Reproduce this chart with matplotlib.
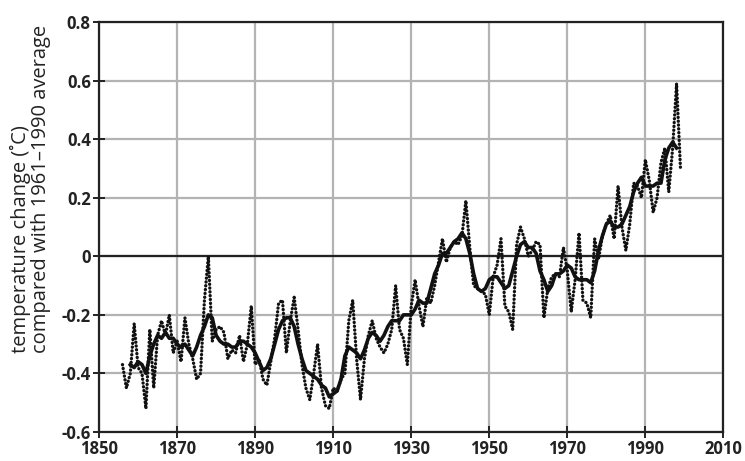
import numpy as np
import matplotlib.pyplot as plt

# annual global temperature anomaly (deg C, vs 1961-1990)
years = list(range(1856, 2000))
annual = [
    -0.37, -0.45, -0.40, -0.23, -0.38, -0.40, -0.52, -0.25, -0.45, -0.27,  # 1856-1865
    -0.22, -0.27, -0.20, -0.33, -0.29, -0.36, -0.21, -0.30, -0.35, -0.42,  # 1866-1875
    -0.40, -0.15, 0.00, -0.29, -0.25, -0.24, -0.26, -0.35, -0.32, -0.33,   # 1876-1885
    -0.27, -0.36, -0.30, -0.17, -0.37, -0.35, -0.42, -0.44, -0.36, -0.28,  # 1886-1895
    -0.16, -0.15, -0.33, -0.22, -0.14, -0.25, -0.37, -0.45, -0.49, -0.40,  # 1896-1905
    -0.30, -0.45, -0.51, -0.52, -0.45, -0.46, -0.42, -0.40, -0.22, -0.15,  # 1906-1915
    -0.35, -0.49, -0.35, -0.27, -0.22, -0.28, -0.31, -0.33, -0.30, -0.25,  # 1916-1925
    -0.10, -0.25, -0.28, -0.37, -0.17, -0.08, -0.17, -0.24, -0.14, -0.16,  # 1926-1935
    -0.10, -0.02, 0.06, -0.02, 0.03, 0.05, 0.04, 0.07, 0.19, 0.03,         # 1936-1945
    -0.10, -0.11, -0.12, -0.13, -0.20, -0.07, -0.03, 0.06, -0.17, -0.19,   # 1946-1955
    -0.25, 0.04, 0.10, 0.06, 0.00, 0.02, 0.05, 0.04, -0.21, -0.11,         # 1956-1965
    -0.07, -0.06, -0.07, 0.03, -0.05, -0.19, -0.08, 0.08, -0.15, -0.16,    # 1966-1975
    -0.21, 0.06, -0.01, 0.07, 0.11, 0.14, 0.06, 0.24, 0.10, 0.02,          # 1976-1985
    0.11, 0.25, 0.24, 0.20, 0.33, 0.26, 0.15, 0.20, 0.32, 0.37,            # 1986-1995
    0.22, 0.37, 0.59, 0.30,                                                # 1996-1999
]

# smoothed curve
smooth_years = list(range(1858, 1999))
smooth = [
    -0.37, -0.38, -0.36, -0.37, -0.40, -0.34, -0.30, -0.27,                # 1858-1865
    -0.28, -0.26, -0.28, -0.28, -0.30, -0.31, -0.30, -0.32, -0.34, -0.31,  # 1866-1875
    -0.27, -0.24, -0.20, -0.21, -0.27, -0.29, -0.30, -0.30, -0.31, -0.31,  # 1876-1885
    -0.29, -0.29, -0.30, -0.31, -0.33, -0.36, -0.39, -0.38, -0.35, -0.30,  # 1886-1895
    -0.25, -0.22, -0.21, -0.21, -0.24, -0.30, -0.35, -0.39, -0.40, -0.41,  # 1896-1905
    -0.42, -0.44, -0.45, -0.48, -0.47, -0.46, -0.42, -0.34, -0.31, -0.32,  # 1906-1915
    -0.33, -0.35, -0.32, -0.28, -0.26, -0.27, -0.29, -0.27, -0.24, -0.22,  # 1916-1925
    -0.22, -0.22, -0.20, -0.20, -0.20, -0.18, -0.15, -0.16, -0.16, -0.11,  # 1926-1935
    -0.06, -0.03, 0.01, 0.01, 0.03, 0.05, 0.06, 0.08, 0.06, 0.01,          # 1936-1945
    -0.06, -0.11, -0.12, -0.11, -0.08, -0.07, -0.07, -0.09, -0.11, -0.10,  # 1946-1955
    -0.05, 0.00, 0.04, 0.05, 0.03, 0.03, 0.01, -0.05, -0.08, -0.12,        # 1956-1965
    -0.10, -0.06, -0.06, -0.05, -0.03, -0.04, -0.07, -0.08, -0.08, -0.08,  # 1966-1975
    -0.09, -0.05, 0.02, 0.07, 0.11, 0.12, 0.10, 0.10, 0.11, 0.14,          # 1976-1985
    0.17, 0.22, 0.25, 0.27, 0.24, 0.24, 0.24, 0.25, 0.25, 0.33,            # 1986-1995
    0.37, 0.39, 0.37,                                                      # 1996-1998
]

xticks = list(range(1850, 2011, 20))
yticks = [-0.6, -0.4, -0.2, 0, 0.2, 0.4, 0.6, 0.8]
ylabels = ['-0.6', '-0.4', '-0.2', '0', '0.2', '0.4', '0.6', '0.8']

plt.rcParams['font.family'] = ['Open Sans', 'DejaVu Sans']

fig = plt.figure(figsize=(7.45, 4.61), dpi=100)
ax = fig.add_axes([0.133, 0.063, 0.838, 0.889])

ax.set_xlim(1850, 2010)
ax.set_ylim(-0.6, 0.8)
ax.set_xticks(xticks)
ax.set_yticks(yticks)
ax.set_yticklabels(ylabels)
ax.grid(True, color='#b3b3b3', linewidth=1.6)
ax.set_axisbelow(True)
ax.axhline(0, color='#222222', linewidth=1.6, zorder=2)

# annual values: dotted line
ax.plot(years, annual, color='#111111', linestyle=(0, (0.05, 1.1)),
        linewidth=2.4, dash_capstyle='round', zorder=3)
# smoothed curve: solid line
ax.plot(smooth_years, smooth, color='#111111', linewidth=2.6, zorder=4)

for s in ax.spines.values():
    s.set_color('#222222')
    s.set_linewidth(1.6)
ax.tick_params(direction='inout', length=8, width=1.4, color='#222222',
               labelsize=12, pad=2)
for lab in ax.get_xticklabels() + ax.get_yticklabels():
    lab.set_fontweight('bold')
    lab.set_color('#222222')

fig.text(0.041, 1 - 353 / 461, 'temperature change (\u02daC)\ncompared with 1961\u20131990 average',
         rotation=90, ha='center', va='bottom', multialignment='left',
         fontsize=14.5, color='#222222', linespacing=1.0)

fig.savefig('out.png', dpi=100)
